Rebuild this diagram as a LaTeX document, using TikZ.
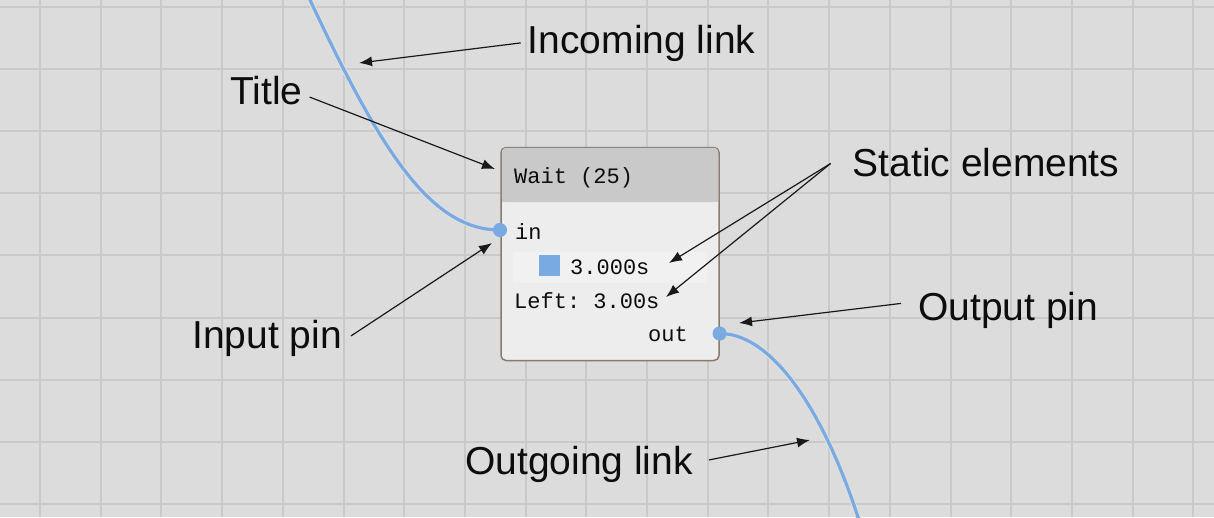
\documentclass[tikz,border=0pt]{standalone}
\usepackage{fontspec}
\setmainfont{Liberation Sans}
\newfontfamily\pixelfont{Liberation Mono}
\usetikzlibrary{arrows.meta}

\definecolor{canvas}{RGB}{220,220,220}
\definecolor{gridline}{RGB}{201,201,201}
\definecolor{linkblue}{RGB}{122,170,226}
\definecolor{titlebg}{RGB}{201,201,201}
\definecolor{bodybg}{RGB}{237,237,237}
\definecolor{rowbg}{RGB}{241,241,241}
\definecolor{rimcol}{RGB}{138,122,108}

\begin{document}
\begin{tikzpicture}[x=1pt, y=-1pt,
    tag/.style={font=\fontsize{39}{47}\selectfont, text=black!95, inner sep=0pt, anchor=base west},
    mono/.style={font=\pixelfont\fontsize{22}{26}\selectfont\frenchspacing, text=black!95, inner sep=0pt, anchor=base west},
    arr/.style={-{Latex[length=13pt,width=10pt]}, line width=1.2pt, black!90},
    wire/.style={preaction={draw=white!75!gray, line width=5.5pt}, draw=linkblue, line width=3.2pt},
    pindot/.style={circle, fill=linkblue, minimum size=14pt, inner sep=0pt}]
    \useasboundingbox (0,0) rectangle (1214,517);
    \clip (0,0) rectangle (1214,517);
    \fill[canvas] (0,0) rectangle (1214,517);
    \foreach \i in {-1,...,19}
        \draw[gridline, line width=2pt] ({40+60.7*\i},0) -- ({40+60.7*\i},517);
    \foreach \j in {0,...,8}
        \draw[gridline, line width=2pt] (0,{7+62.1*\j}) -- (1214,{7+62.1*\j});

    % links
    \coordinate (srctop) at (307.7,-5);
    \coordinate (sinkbot) at (865,540);
    \node (inpin) [pindot] at (500,230) {};
    \node (outpin) [pindot] at (719.5,333.5) {};
    \draw[wire] (srctop) .. controls (380,150) and (430,230) .. (inpin.center);
    \draw[wire] (outpin.center) .. controls (775,333) and (830,420) .. (sinkbot);

    % the node
    \node (box) [draw=rimcol, line width=1.5pt, fill=bodybg, rounded corners=5pt,
        minimum width=218pt, minimum height=213pt, inner sep=0pt] at (610,254) {};
    \fill[titlebg, rounded corners=4pt] (501.8,147.8) rectangle (718.2,202);
    \fill[titlebg] (501.8,190) rectangle (718.2,202);
    \fill[rowbg] (513,252) rectangle (707,283);
    \node [pindot] at (inpin) {};
    \node [pindot] at (outpin) {};

    \node (title) [mono] at (514,183) {Wait (25)};
    \node (inlbl) [mono] at (515,239) {in};
    \node (swatch) [fill=linkblue, minimum size=21pt, inner sep=0pt] at (549,265.5) {};
    \node (dur) [mono] at (570,274) {3.000s};
    \node (remain) [mono] at (514,308) {Left: 3.00s};
    \node (outlbl) [mono, anchor=base east] at (688,341.5) {out};

    % callouts
    \node (inc) [tag] at (527.7,53) {Incoming link};
    \node (ttl) [tag] at (230,104) {Title};
    \node (stat) [tag] at (852.5,176.5) {Static elements};
    \node (ipin) [tag] at (192,348) {Input pin};
    \node (opin) [tag] at (918,320.5) {Output pin};
    \node (ogo) [tag] at (465,474) {Outgoing link};

    \coordinate (incT) at (359,63);
    \coordinate (ttlT) at (495,169);
    \coordinate (durT) at (669,263);
    \coordinate (remT) at (666,297);
    \coordinate (ipinT) at (492,243);
    \coordinate (opinT) at (739,323);
    \coordinate (ogoT) at (810,440);

    \draw[arr] ([shift={(-7,0)}]inc.west) -- (incT);
    \draw[arr] ([shift={(7,7)}]ttl.east) -- (ttlT);
    \draw[arr] ([shift={(-22,1)}]stat.west) -- (durT);
    \draw[arr] ([shift={(-22,1)}]stat.west) -- (remT);
    \draw[arr] ([shift={(9,-2)}]ipin.east) -- (ipinT);
    \draw[arr] ([shift={(-17,-7)}]opin.west) -- (opinT);
    \draw[arr] ([shift={(16,-4)}]ogo.east) -- (ogoT);
\end{tikzpicture}
\end{document}
